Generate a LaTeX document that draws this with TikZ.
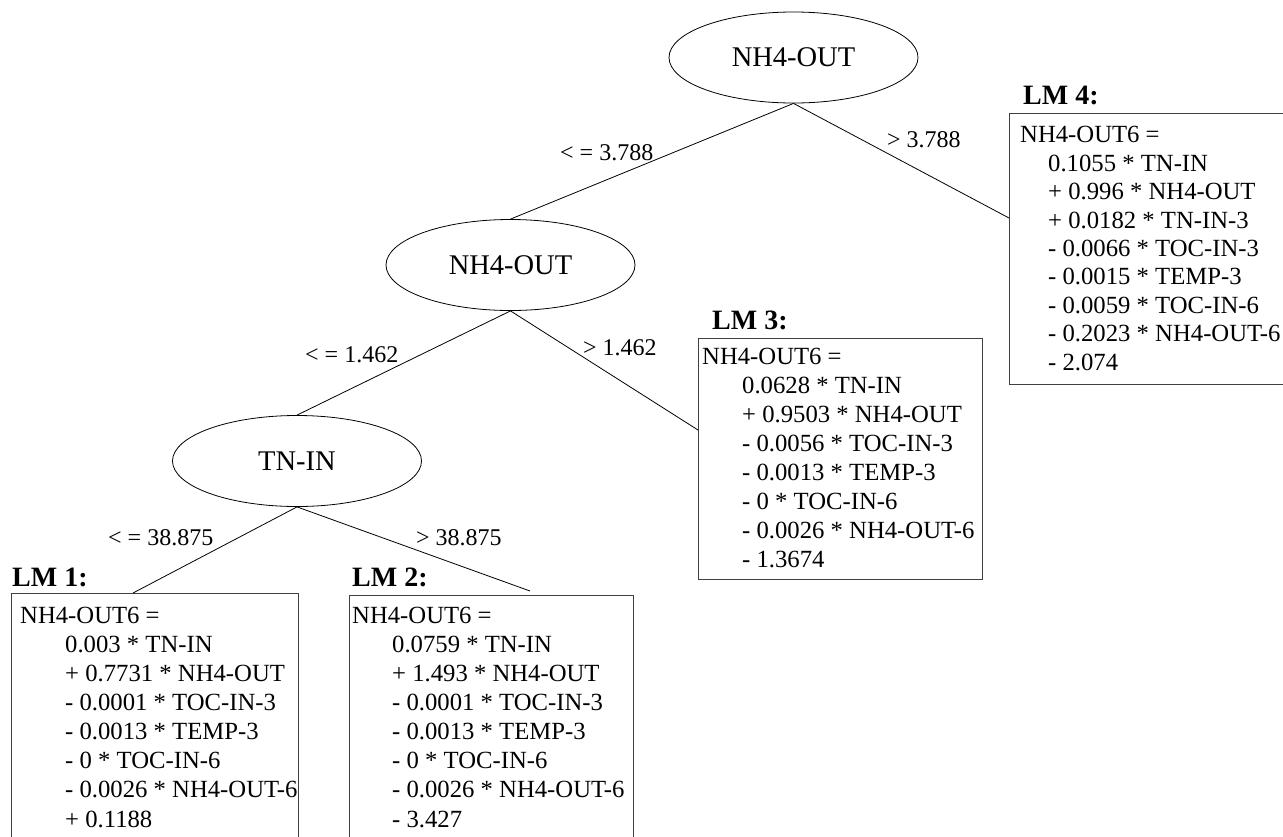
\documentclass[tikz,border=0pt]{standalone}
\usepackage{fontspec}
\setmainfont{Liberation Serif}
\usetikzlibrary{shapes.geometric}
\begin{document}
\begin{tikzpicture}[x=1pt,y=-1pt,
  splitnode/.style={draw, ellipse, line width=0.8pt, minimum width=249pt, minimum height=91pt, inner sep=0pt, font=\fontsize{28.5}{30}\selectfont},
  edgelabel/.style={anchor=base west, inner sep=0pt, font=\fontsize{24}{26}\selectfont},
  lmlabel/.style={anchor=base west, inner sep=0pt, font=\fontsize{28}{30}\selectfont\bfseries},
  lmbox/.style={draw=black!75, line width=1.2pt, rectangle, anchor=north west, inner sep=0pt},
  lmtext/.style={anchor=base west, inner sep=0pt, align=left},
  conn/.style={line width=0.8pt}
]
\clip (0,0) rectangle (1283,836);
\fill[white] (0,0) rectangle (1283,836);

% split nodes
\node[splitnode] (n1) at (793.5,57.5) {NH4-OUT};
\node[splitnode] (n2) at (510.5,265) {NH4-OUT};
\node[splitnode] (n3) at (297,461) {TN-IN};

% boxes
\node[lmbox, minimum width=287pt, minimum height=260pt] (b1) at (11,593) {};
\node[lmbox, minimum width=284pt, minimum height=260pt] (b2) at (349,595) {};
\node[lmbox, minimum width=284pt, minimum height=241pt] (b3) at (698,338) {};
\node[lmbox, minimum width=290pt, minimum height=271pt] (b4) at (1009,113) {};

% connector ends
\coordinate (c4) at (1009,218);
\coordinate (c3) at (698,430);
\coordinate (c1) at (133,593);
\coordinate (c2) at (530,591);

\draw[conn] (n1.south) -- (n2.north);
\draw[conn] (n1.south) -- (c4);
\draw[conn] (n2.south) -- (n3.north);
\draw[conn] (n2.south) -- (c3);
\draw[conn] (n3.south) -- (c1);
\draw[conn] (n3.south) -- (c2);

% edge labels
\node[edgelabel] (e1) at (560,160) {< = 3.788};
\node[edgelabel] (e2) at (887,147) {> 3.788};
\node[edgelabel] (e3) at (305,362) {< = 1.462};
\node[edgelabel] (e4) at (583,355) {> 1.462};
\node[edgelabel] (e5) at (108,545) {< = 38.875};
\node[edgelabel] (e6) at (416,545) {> 38.875};

% LM labels
\node[lmlabel] (l1) at (12,586) {LM 1:};
\node[lmlabel] (l2) at (352,586) {LM 2:};
\node[lmlabel] (l3) at (712,329) {LM 3:};
\node[lmlabel] (l4) at (1023,104) {LM 4:};

% LM texts (anchored at the baseline of the last line)
\node[lmtext, font=\fontsize{24.7}{29.1}\selectfont] (t1) at (20,827) {NH4-OUT6 =\\
\hspace*{45pt}0.003 * TN-IN\\
\hspace*{45pt}+ 0.7731 * NH4-OUT\\
\hspace*{45pt}- 0.0001 * TOC-IN-3\\
\hspace*{45pt}- 0.0013 * TEMP-3\\
\hspace*{45pt}- 0 * TOC-IN-6\\
\hspace*{45pt}- 0.0026 * NH4-OUT-6\\
\hspace*{45pt}+ 0.1188};

\node[lmtext, font=\fontsize{24.7}{29.1}\selectfont] (t2) at (352,827) {NH4-OUT6 =\\
\hspace*{40pt}0.0759 * TN-IN\\
\hspace*{40pt}+ 1.493 * NH4-OUT\\
\hspace*{40pt}- 0.0001 * TOC-IN-3\\
\hspace*{40pt}- 0.0013 * TEMP-3\\
\hspace*{40pt}- 0 * TOC-IN-6\\
\hspace*{40pt}- 0.0026 * NH4-OUT-6\\
\hspace*{40pt}- 3.427};

\node[lmtext, font=\fontsize{24.7}{28.9}\selectfont] (t3) at (702,567) {NH4-OUT6 =\\
\hspace*{40pt}0.0628 * TN-IN\\
\hspace*{40pt}+ 0.9503 * NH4-OUT\\
\hspace*{40pt}- 0.0056 * TOC-IN-3\\
\hspace*{40pt}- 0.0013 * TEMP-3\\
\hspace*{40pt}- 0 * TOC-IN-6\\
\hspace*{40pt}- 0.0026 * NH4-OUT-6\\
\hspace*{40pt}- 1.3674};

\node[lmtext, font=\fontsize{24.7}{28.4}\selectfont] (t4) at (1020,370) {NH4-OUT6 =\\
\hspace*{28pt}0.1055 * TN-IN\\
\hspace*{28pt}+ 0.996 * NH4-OUT\\
\hspace*{28pt}+ 0.0182 * TN-IN-3\\
\hspace*{28pt}- 0.0066 * TOC-IN-3\\
\hspace*{28pt}- 0.0015 * TEMP-3\\
\hspace*{28pt}- 0.0059 * TOC-IN-6\\
\hspace*{28pt}- 0.2023 * NH4-OUT-6\\
\hspace*{28pt}- 2.074};
\end{tikzpicture}
\end{document}
